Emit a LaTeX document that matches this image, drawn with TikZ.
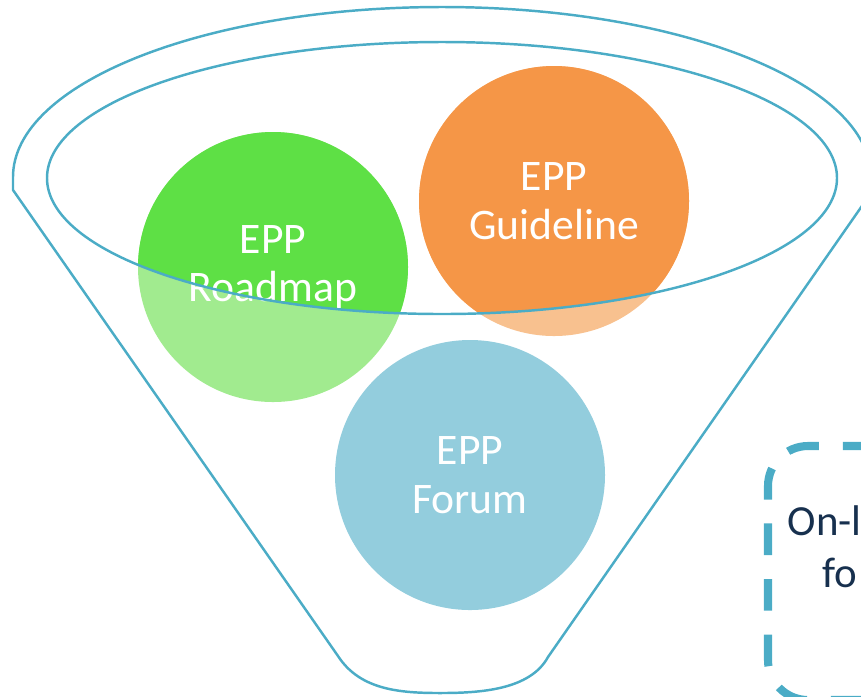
\documentclass[tikz,border=0pt]{standalone}
\usepackage{fontspec}
\setmainfont{Carlito}
\usetikzlibrary{positioning}
\definecolor{funnelBlue}{HTML}{4BACC6}
\definecolor{roadFull}{HTML}{5EE045}
\definecolor{roadLight}{HTML}{A1EB8F}
\definecolor{guideFull}{HTML}{F59647}
\definecolor{guideLight}{HTML}{F8C18F}
\definecolor{forumFill}{HTML}{93CDDD}
\definecolor{noteBlue}{HTML}{17304E}
\tikzset{
  funnelLine/.style={draw=funnelBlue, line width=0.7pt},
  eppLabel/.style={text=white, align=center, inner sep=0pt,
    font=\fontsize{12.4}{13.9}\selectfont},
  noteText/.style={text=noteBlue, anchor=base west, inner sep=0pt,
    font=\fontsize{12.2}{14.8}\selectfont}
}

\begin{document}
\begin{tikzpicture}[x=0.01cm, y=0.01cm]
\useasboundingbox (0,-696) rectangle (861,0);
\clip (0,-696) rectangle (861,0);
\coordinate (road) at (273,-267);
\coordinate (guide) at (554,-201);
\coordinate (forum) at (470,-475);
\coordinate (rim) at (442,-178);

% balls, pale where they sit below the rim
\fill[roadLight] (road) circle (135);
\fill[guideLight] (guide) circle (135);
\fill[forumFill] (forum) circle (135);
\begin{scope}
  \clip (rim) ellipse (395 and 136);
  \fill[roadFull] (road) circle (135);
  \fill[guideFull] (guide) circle (135);
\end{scope}
\node[eppLabel] (roadText) at (road) {EPP\\Roadmap};
\node[eppLabel] (guideText) at (guide) {EPP\\Guideline};
\node[eppLabel] (forumText) at (forum) {EPP\\Forum};

% funnel
\draw[funnelLine] (rim) ellipse (395 and 136);
\draw[funnelLine] (871,-177) arc[start angle=0, end angle=180, x radius=429, y radius=170]
  -- (13,-190) -- (338,-656)
  .. controls (360,-690) and (400,-693) .. (440,-693)
  .. controls (480,-693) and (530,-690) .. (548,-657)
  -- (880,-180) -- cycle;

% note box on the right
\draw[funnelBlue, line width=2.3pt, dash pattern=on 9pt off 6.8pt, rounded corners=0.4cm]
  (930,-446) -- (768,-446) -- (768,-700) -- (930,-700);
\node[noteText] (noteTop) at (787,-535) {On-l};
\node[noteText] (noteLow) at (822,-587) {fo};
\end{tikzpicture}
\end{document}
